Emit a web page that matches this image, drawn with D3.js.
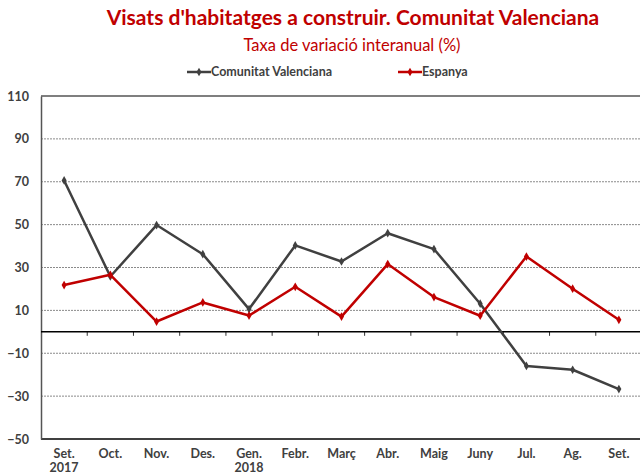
<!DOCTYPE html>
<html>
<head>
<meta charset="utf-8">
<script src="https://cdn.jsdelivr.net/npm/d3@7"></script>
<style>
  html, body { margin: 0; padding: 0; background: #fff; }
  svg { display: block; font-family: Lato, "Open Sans", sans-serif; }
</style>
</head>
<body>
<div id="chart"></div>
<script>
const months = ['Set.', 'Oct.', 'Nov.', 'Des.', 'Gen.', 'Febr.', 'Març', 'Abr.', 'Maig', 'Juny', 'Jul.', 'Ag.', 'Set.']
const years = ['2017', '', '', '', '2018', '', '', '', '', '', '', '', '']
const valenciana = [70.6, 25.8, 49.8, 36.2, 10.6, 40.3, 32.8, 46.0, 38.6, 13.1, -15.9, -17.7, -26.7]
const espanya = [21.8, 26.6, 4.8, 13.7, 7.6, 21.0, 7.1, 31.6, 16.2, 7.5, 35.1, 20.1, 5.6]
const yTicks = [110, 90, 70, 50, 30, 10, -10, -30, -50]

const W = 640, H = 476
const M = { top: 96, right: -2, bottom: 37, left: 41 }
const RED = '#c00000', GREY = '#404040'

const svg = d3.select('#chart').append('svg').attr('width', W).attr('height', H)

const x = d3.scaleBand().domain(d3.range(months.length)).range([M.left, W - M.right])
const y = d3.scaleLinear().domain([-50, 110]).range([H - M.bottom, M.top])
const cx = i => x(i) + x.bandwidth() / 2

// titles
svg.append('text').attr('x', 353).attr('y', 25).attr('text-anchor', 'middle')
  .attr('fill', RED).attr('font-weight', 'bold').attr('font-size', 21)
  .text("Visats d'habitatges a construir. Comunitat Valenciana")
svg.append('text').attr('x', 352).attr('y', 51).attr('text-anchor', 'middle')
  .attr('fill', RED).attr('font-size', 16.5)
  .text('Taxa de variació interanual (%)')

// gridlines
const grid = svg.append('g')
grid.selectAll('line').data(yTicks.filter(v => v > -50 && v < 110)).join('line')
  .attr('x1', M.left).attr('x2', W).attr('y1', d => y(d)).attr('y2', d => y(d))
  .attr('stroke', '#8a8a8a').attr('stroke-width', 1).attr('stroke-dasharray', '2 1')

// frame lines
svg.append('line').attr('x1', M.left).attr('x2', W).attr('y1', y(110)).attr('y2', y(110))
  .attr('stroke', '#000').attr('stroke-width', 1.2)
svg.append('line').attr('x1', M.left).attr('x2', W).attr('y1', y(-50)).attr('y2', y(-50))
  .attr('stroke', '#000').attr('stroke-width', 1.5)

// y axis
const yAxis = svg.append('g').attr('transform', `translate(${M.left},0)`)
  .call(d3.axisLeft(y).tickValues(yTicks).tickSize(0).tickPadding(12))
yAxis.select('.domain').attr('stroke', '#555').attr('stroke-width', 1.5)
yAxis.selectAll('text').attr('fill', GREY).attr('font-weight', 'bold').attr('font-size', 12.5)
  .attr('font-family', 'Lato, "Open Sans", sans-serif')

// zero line with category ticks
const zero = svg.append('g').attr('transform', `translate(0,${y(0)})`)
  .call(d3.axisBottom(x).tickValues(d3.range(1, months.length)).tickSize(4).tickFormat(''))
zero.selectAll('.tick').attr('transform', d => `translate(${x(d)},0)`)
zero.selectAll('.tick line').attr('stroke', '#333')
zero.select('.domain').remove()
zero.append('line').attr('x1', M.left).attr('x2', W).attr('stroke', '#000').attr('stroke-width', 1.5)

// x labels
const xl = svg.append('g')
xl.selectAll('text.m').data(months).join('text').attr('class', 'm')
  .attr('x', (d, i) => cx(i)).attr('y', 458).attr('text-anchor', 'middle')
  .attr('fill', GREY).attr('font-weight', 'bold').attr('font-size', 12.5).text(d => d)
xl.selectAll('text.yr').data(years).join('text').attr('class', 'yr')
  .attr('x', (d, i) => cx(i)).attr('y', 472).attr('text-anchor', 'middle')
  .attr('fill', GREY).attr('font-weight', 'bold').attr('font-size', 12.5).text(d => d)

// series
const line = d3.line().x((d, i) => cx(i)).y(d => y(d))
const diamond = d3.symbol().type(d3.symbolDiamond).size(22)
function drawSeries(vals, color) {
  svg.append('path').attr('d', line(vals)).attr('fill', 'none')
    .attr('stroke', color).attr('stroke-width', 2.5).attr('stroke-linejoin', 'round')
  svg.append('g').selectAll('path').data(vals).join('path')
    .attr('d', diamond).attr('transform', (d, i) => `translate(${cx(i)},${y(d)})`)
    .attr('fill', color)
}
drawSeries(valenciana, GREY)
drawSeries(espanya, RED)

// legend
const legend = [
  { name: 'Comunitat Valenciana', color: GREY, x: 187 },
  { name: 'Espanya', color: RED, x: 398 }
]
const lg = svg.append('g').selectAll('g').data(legend).join('g')
  .attr('transform', d => `translate(${d.x},72)`)
lg.append('line').attr('x1', 0).attr('x2', 24).attr('stroke', d => d.color).attr('stroke-width', 2.5)
lg.append('path').attr('d', diamond).attr('transform', 'translate(12,0)').attr('fill', d => d.color)
lg.append('text').attr('x', 24).attr('y', 4).attr('fill', GREY).attr('font-size', 12.5)
  .attr('font-weight', 'bold').text(d => d.name)
</script>
</body>
</html>
